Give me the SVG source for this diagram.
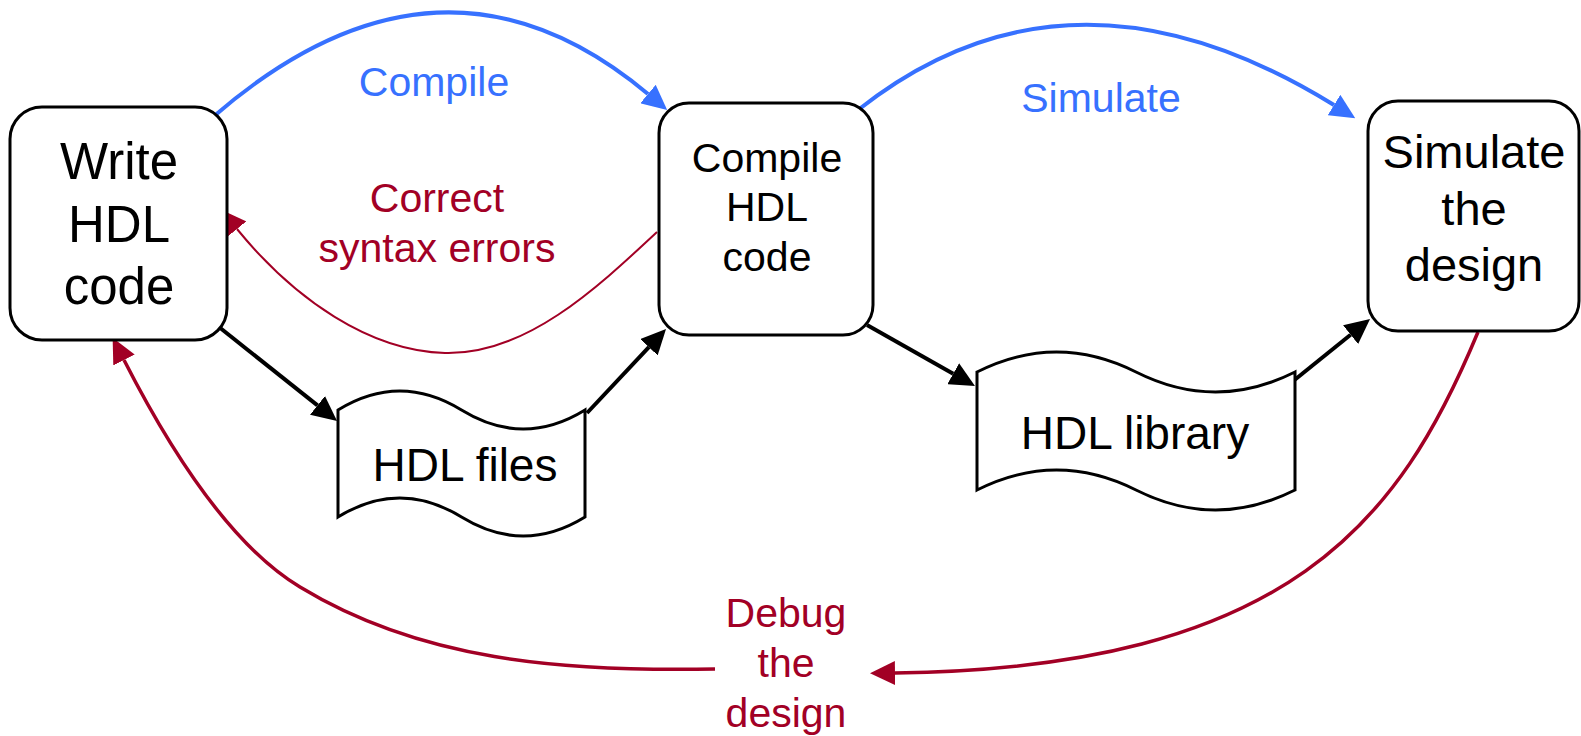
<svg xmlns="http://www.w3.org/2000/svg" width="1581" height="736" viewBox="0 0 1581 736">
<style>
.box{fill:#fff;stroke:#000;stroke-width:3}
.t{font-family:"Liberation Sans",Arial,sans-serif;text-anchor:middle;fill:#000}
.blue{fill:none;stroke:#3771FF;stroke-width:4}
.blk{fill:none;stroke:#000;stroke-width:4}
.red{fill:none;stroke:#A20025;stroke-width:3.5}
.redthin{fill:none;stroke:#A20025;stroke-width:2}
.lb{fill:#3771FF}
.lr{fill:#A20025}
</style>
<defs>
<marker id="aBlue" markerUnits="userSpaceOnUse" viewBox="0 0 25 24" markerWidth="25" markerHeight="24" refX="0" refY="12" orient="auto"><path d="M0,0 L25,12 L0,24 Z" fill="#3771FF"/></marker>
<marker id="aBlk" markerUnits="userSpaceOnUse" viewBox="0 0 25 24" markerWidth="25" markerHeight="24" refX="0" refY="12" orient="auto"><path d="M0,0 L25,12 L0,24 Z" fill="#000"/></marker>
<marker id="aRed" markerUnits="userSpaceOnUse" viewBox="0 0 25 24" markerWidth="25" markerHeight="24" refX="0" refY="12" orient="auto"><path d="M0,0 L25,12 L0,24 Z" fill="#A20025"/></marker>
</defs>
<rect width="1581" height="736" fill="#fff"/>
<g id="connectors">
<path class="blue" d="M213,117 Q440,-80 648,94" marker-end="url(#aBlue)"/>
<path class="blue" d="M858,110 Q1070,-58 1334,105" marker-end="url(#aBlue)"/>
<path class="redthin" d="M657,232 C595,290 525,355 445,353 C370,351 295,300 237,229" marker-end="url(#aRed)"/>
<path class="blk" d="M219,327 L317.5,405.4" marker-end="url(#aBlk)"/>
<path class="blk" d="M587,413 L648.9,347.2" marker-end="url(#aBlk)"/>
<path class="blk" d="M867,325 L953.2,373.7" marker-end="url(#aBlk)"/>
<path class="blk" d="M1292,382 L1350.6,334.7" marker-end="url(#aBlk)"/>
<path class="red" d="M1478,332 C1400,520 1290,668 895,673" marker-end="url(#aRed)"/>
<path class="red" d="M715,669 C560,672 420,660 300,587 C230,545 170,450 124,360" marker-end="url(#aRed)"/>
<text class="t lb" x="434" y="96" font-size="41">Compile</text>
<text class="t lb" x="1101" y="112" font-size="41">Simulate</text>
<text class="t lr" x="437" y="212" font-size="41">Correct</text>
<text class="t lr" x="437" y="262" font-size="41">syntax errors</text>
</g>
<g id="write">
<rect class="box" x="10" y="107" width="217" height="233" rx="32"/>
<text class="t" x="119" y="179" font-size="51">Write</text>
<text class="t" x="119" y="242" font-size="51">HDL</text>
<text class="t" x="119" y="304" font-size="51">code</text>
</g>
<g id="compile">
<rect class="box" x="659" y="103" width="214" height="232" rx="30"/>
<text class="t" x="767" y="172" font-size="41">Compile</text>
<text class="t" x="767" y="221" font-size="41">HDL</text>
<text class="t" x="767" y="271" font-size="41">code</text>
</g>
<g id="simulate">
<rect class="box" x="1368" y="101" width="211" height="230" rx="30"/>
<text class="t" x="1474" y="168" font-size="47">Simulate</text>
<text class="t" x="1474" y="225" font-size="47">the</text>
<text class="t" x="1474" y="281" font-size="47">design</text>
</g>
<g id="hdlfiles">
<path class="box" d="M338,410 Q399.75,372 461.5,410 T585,410 L585,517 Q523.25,555 461.5,517 T338,517 Z"/>
<text class="t" x="465" y="481" font-size="46">HDL files</text>
</g>
<g id="hdllibrary">
<path class="box" d="M977,372 Q1056.5,332 1136,372 T1295,372 L1295,490 Q1215.5,530 1136,490 T977,490 Z"/>
<text class="t" x="1135" y="449" font-size="46">HDL library</text>
</g>
<g id="debug">
<text class="t lr" x="786" y="627" font-size="41">Debug</text>
<text class="t lr" x="786" y="677" font-size="41">the</text>
<text class="t lr" x="786" y="727" font-size="41">design</text>
</g>
</svg>
